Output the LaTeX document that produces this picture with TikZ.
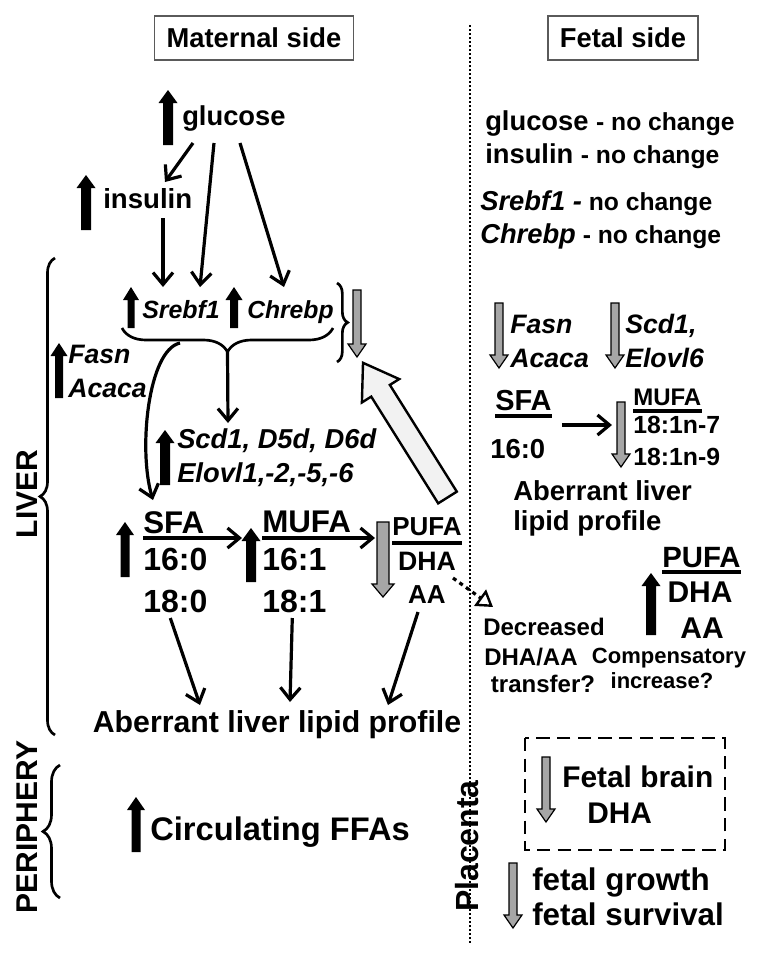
\documentclass[tikz,border=0pt]{standalone}
\usepackage{fontspec}
\setmainfont{Liberation Sans}
\usetikzlibrary{arrows.meta,calc,decorations.pathreplacing}

\begin{document}
\begin{tikzpicture}[x=0.75pt,y=0.75pt,yscale=-1,xscale=1,
  txt/.style={inner sep=0pt,font=\bfseries\fontsize{#1}{#1}\selectfont},
  itx/.style={inner sep=0pt,font=\bfseries\itshape\fontsize{#1}{#1}\selectfont},
  hdr/.style={txt=20.5,draw={rgb, 255:red, 90; green, 90; blue, 90},line width=1pt,inner xsep=9pt,minimum height=33pt},
  conn/.style={line width=2.4pt,-{Straight Barb[length=9pt,width=15pt]}},
  dotarr/.style={line width=2.4pt,dash pattern=on 3pt off 3pt,-{Triangle[open,length=12pt,width=15pt,line width=1.8pt]}},
  brc/.style={decorate,line width=2pt},
  uline/.style={line width=2.3pt},
  pics/uparr/.style 2 args={code={\fill (-#2,0) -- (#2,0) -- (#2,#1-13) -- (#2+4.5,#1-13) -- (0,#1) -- (-#2-4.5,#1-13) -- (-#2,#1-13) -- cycle;}},
  pics/dnarr/.style 2 args={code={\filldraw[fill={rgb, 255:red, 166; green, 166; blue, 166},line width=0.9pt] (-#2,0) -- (#2,0) -- (#2,-#1+13) -- (#2+5,-#1+13) -- (0,-#1) -- (-#2-5,-#1+13) -- (-#2,-#1+13) -- cycle;}}
]
\useasboundingbox (0,0) rectangle (764,961);

%Headers
\node[hdr] (matside) at (254,38) {Maternal side};
\node[hdr] (fetside) at (623,38) {Fetal side};

%Dotted separator
\draw[line width=1.5pt,dash pattern=on 1.5pt off 1.5pt] (470,25) -- (470,943);

% Text Node -- maternal side
\node[txt=20.5,anchor=base west] (glu) at (182,125) {glucose};
\node[txt=20.7,anchor=base west] (ins) at (103,208) {insulin};
\node[itx=18.7,anchor=base west] (srebf) at (142,318) {Srebf1};
\node[itx=18.5,anchor=base west] (chrebp) at (247,318) {Chrebp};
\node[itx=20,anchor=base west] (fasn) at (68,363) {Fasn};
\node[itx=20,anchor=base west] (acaca) at (68,397) {Acaca};
\node[itx=20.5,anchor=base west] (scd) at (177,448) {Scd1, D5d, D6d};
\node[itx=20.5,anchor=base west] (elovl) at (177,482) {Elovl1,-2,-5,-6};
\node[txt=23.5,anchor=base west] (sfa) at (143,533) {SFA};
\node[txt=24,anchor=base west] (s16) at (143,570) {16:0};
\node[txt=24,anchor=base west] (s18) at (143,612) {18:0};
\node[txt=23.5,anchor=base west] (mufa) at (262,532) {MUFA};
\node[txt=24,anchor=base west] (m16) at (262,570) {16:1};
\node[txt=24,anchor=base west] (m18) at (262,612) {18:1};
\node[txt=19.5,anchor=base west] (pufa) at (392,535) {PUFA};
\node[txt=20,anchor=base] (pdha) at (427,570) {DHA};
\node[txt=19.5,anchor=base] (paa) at (427,603) {AA};
\node[txt=22.7,anchor=base] (aberr) at (277,732) {Aberrant liver lipid profile};
\node[txt=24.5,anchor=base west] (circ) at (150,840) {Circulating FFAs};
\node[txt=22.5,rotate=90] (liver) at (27,494) {LIVER};
\node[txt=22.5,rotate=90] (peri) at (27,827) {PERIPHERY};
\node[txt=24,rotate=90] (plac) at (467,846) {Placenta};

% Text Node -- fetal side
\node[txt=20.5,anchor=base west] (fglu) at (485,130) {glucose \fontsize{18.5}{18.5}\selectfont - no change};
\node[txt=20.5,anchor=base west] (fins) at (485,163) {insulin \fontsize{18.5}{18.5}\selectfont - no change};
\node[itx=20.5,anchor=base west] (fsreb) at (480,210) {Srebf1 -\upshape\fontsize{18.5}{18.5}\selectfont{} no change};
\node[itx=20.5,anchor=base west] (fchr) at (480,243) {Chrebp\upshape\fontsize{18.5}{18.5}\selectfont{} - no change};
\node[itx=20,anchor=base west] (ffasn) at (510,333) {Fasn};
\node[itx=20,anchor=base west] (facaca) at (510,367) {Acaca};
\node[itx=20,anchor=base west] (fscd) at (625,333) {Scd1,};
\node[itx=20,anchor=base west] (felovl) at (625,367) {Elovl6};
\node[txt=21.7,anchor=base west] (fsfa) at (495,410) {SFA};
\node[txt=20.6,anchor=base west] (f16) at (490,458) {16:0};
\node[txt=18,anchor=base west] (fmufa) at (633,405) {MUFA};
\node[txt=18.6,anchor=base west] (fn7) at (633,433) {18:1n-7};
\node[txt=18.6,anchor=base west] (fn9) at (633,465) {18:1n-9};
\node[txt=20.6,anchor=base west] (fab1) at (513,500) {Aberrant liver};
\node[txt=20.6,anchor=base west] (fab2) at (513,530) {lipid profile};
\node[txt=22,anchor=base west] (fpufa) at (662,567) {PUFA};
\node[txt=22.5,anchor=base] (fdha) at (700,602) {DHA};
\node[txt=22.5,anchor=base] (faa) at (702,638) {AA};
\node[txt=18,anchor=base] (decr) at (544,635) {Decreased};
\node[txt=18,anchor=base] (dhaaa) at (531,665) {DHA/AA};
\node[txt=18,anchor=base] (transf) at (543,692) {transfer?};
\node[txt=16.5,anchor=base] (comp) at (669,663) {Compensatory};
\node[txt=16.5,anchor=base] (incr) at (662,688) {increase?};
\node[txt=22.4,anchor=base west] (brain) at (562,787) {Fetal brain};
\node[txt=22.4,anchor=base west] (bdha) at (587,823) {DHA};
\node[txt=23.5,anchor=base west] (grow) at (532,890) {fetal growth};
\node[txt=23.5,anchor=base west] (surv) at (532,925) {fetal survival};

%Shape: Rectangle (dashed)
\draw[line width=2.2pt,dash pattern=on 10pt off 5.5pt] (525,738) rectangle (725,850);

%Braces
\draw[brc,decoration={brace,amplitude=11.25pt}] (55,735) -- (55,258);
\draw[brc,decoration={brace,amplitude=12.75pt}] (60,898) -- (60,765);
\draw[brc,decoration={brace,amplitude=18pt}] (333,328) -- (122,328);
\draw[brc,decoration={brace,amplitude=8pt}] (337,283) -- (337,362);
\coordinate (btip) at (227.5,352);
\coordinate (bleft) at (180,343);

%Up arrows
\pic at (168,145) {uparr={55}{5}};
\pic at (86,230) {uparr={55}{5}};
\pic at (131,328) {uparr={41}{3.5}};
\pic at (234,328) {uparr={41}{4}};
\pic at (59,398) {uparr={55}{4}};
\pic at (165,485) {uparr={55}{5}};
\pic at (125,577) {uparr={55}{4.5}};
\pic at (251,582) {uparr={54}{5}};
\pic at (136,852) {uparr={55}{4.5}};
\pic at (651,635) {uparr={62}{5}};

%Down arrows
\pic at (357,290) {dnarr={67}{4}};
\pic at (383,522) {dnarr={75}{6}};
\pic at (499,303) {dnarr={65}{4}};
\pic at (615,303) {dnarr={65}{4}};
\pic at (621,402) {dnarr={65}{4}};
\pic at (546,757) {dnarr={65}{4}};
\pic at (513,863) {dnarr={65}{4}};

%Shape: hollow arrow
\begin{scope}[shift={(447.5,497.5)},rotate=237.9]
\draw[line width=1.8pt,fill={rgb, 255:red, 242; green, 242; blue, 242}] (0,-11) -- (126,-11) -- (126,-22) -- (159,0) -- (126,22) -- (126,11) -- (0,11) -- cycle;
\end{scope}

%Underlines
\draw[uline] ($(sfa.base west)+(0,5)$) -- ($(sfa.base east)+(0,5)$);
\draw[uline] ($(mufa.base west)+(0,6)$) -- ($(mufa.base east)+(0,6)$);
\draw[uline] ($(pufa.base west)+(0,8)$) -- ($(pufa.base east)+(0,8)$);
\draw[uline] ($(fsfa.base west)+(0,6)$) -- ($(fsfa.base east)+(0,6)$);
\draw[uline] ($(fmufa.base west)+(0,6)$) -- ($(fmufa.base east)+(0,6)$);
\draw[uline] ($(fpufa.base west)+(0,5)$) -- ($(fpufa.base east)+(0,5)$);

%Straight Lines
\draw[conn] ($(glu.base west)+(11,18)$) -- ($(ins.base west)+(62,-26)$);
\draw[conn] ($(ins.base west)+(60,10)$) -- ($(srebf.base west)+(21,-31)$);
\draw[conn] ($(glu.base west)+(32,18)$) -- ($(srebf.base west)+(58,-31)$);
\draw[conn] ($(glu.base west)+(58,18)$) -- ($(chrebp.base west)+(37,-31)$);
\draw[conn] (btip) -- ($(scd.base west)+(51,-25)$);
\draw[conn] (bleft) .. controls (148,350) and (138,450) .. ($(sfa.base west)+(10,-33)$);
\draw[conn] ($(sfa.base east)+(-2,5)$) -- ($(mufa.base west)+(-20,6)$);
\draw[conn] ($(mufa.base east)+(-6,6)$) -- ($(pufa.base west)+(-17,3)$);
\draw[conn] ($(s18.base)+(-5,6)$) -- ($(aberr.base)+(-77,-27)$);
\draw[conn] ($(m18.base)+(-2,6)$) -- ($(aberr.base)+(13,-30)$);
\draw[conn] ($(paa.base)+(-9,9)$) -- ($(aberr.base)+(111,-27)$);
\draw[dotarr] ($(paa.base)+(26,-25)$) -- ($(decr.base)+(-51,-28)$);
\draw[conn] ($(fsfa.base east)+(10,15)$) -- ($(fmufa.base west)+(-21,20)$);

\end{tikzpicture}
\end{document}
